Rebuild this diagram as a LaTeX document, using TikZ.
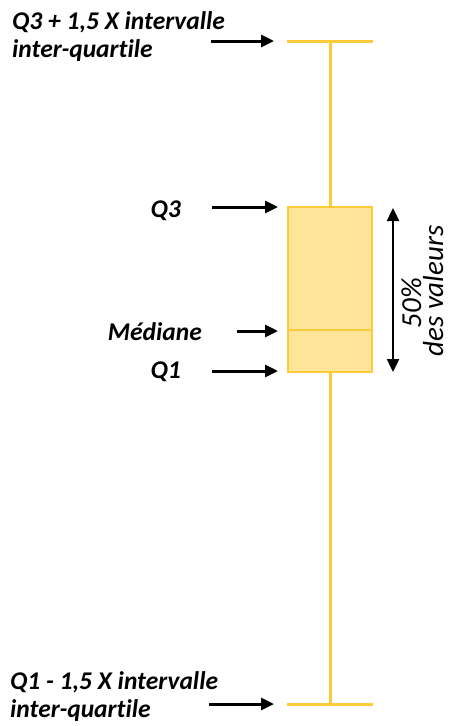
\documentclass[tikz,border=0pt]{standalone}
\usepackage{fontspec}
\setmainfont{Carlito}[Ligatures=NoCommon]
\usetikzlibrary{arrows.meta}
\definecolor{boxline}{HTML}{FBCB3A}
\definecolor{boxfill}{HTML}{FFE597}
\begin{document}
\begin{tikzpicture}[x=1pt,y=-1pt,
  lbl/.style={font=\fontsize{25.5}{28}\selectfont\bfseries\itshape, inner sep=0pt},
  rlbl/.style={font=\fontsize{29}{32}\selectfont\itshape, inner sep=0pt, rotate=90, anchor=base},
  ptr/.style={-{Triangle[length=13pt,width=12pt]}, line width=3pt, black},
  whisk/.style={boxline, line width=3pt},
  boxst/.style={draw=boxline, fill=boxfill, line width=2pt}]
\useasboundingbox (0,0) rectangle (451,726);
% whiskers
\coordinate (wt) at (330,41);
\coordinate (wb) at (330,704);
\draw[whisk] (287,41) -- (373,41);
\draw[whisk] (287,704) -- (373,704);
\draw[whisk] (wt) -- (330,207);
\draw[whisk] (330,372) -- (wb);
% box
\draw[boxst] (288,207) rectangle (372,372);
\draw[boxline, line width=2pt] (288,330) -- (372,330);
% arrow targets
\coordinate (tTop) at (274,41);
\coordinate (tQ3) at (278,207);
\coordinate (tMed) at (278,331);
\coordinate (tQ1) at (278,371);
\coordinate (tBot) at (274,704);
% labels
\node[lbl, anchor=base west] (top1) at (12,29) {Q3 + 1,5 X intervalle};
\node[lbl, anchor=base west] (top2) at (12,57) {inter-quartile};
\node[lbl, anchor=base east] (q3) at (181,217) {Q3};
\node[lbl, anchor=base east] (med) at (202,340) {Médiane};
\node[lbl, anchor=base east] (q1) at (181,378) {Q1};
\node[lbl, anchor=base west] (bot1) at (10,689) {Q1 - 1,5 X intervalle};
\node[lbl, anchor=base west] (bot2) at (10,717) {inter-quartile};
% arrows
\coordinate (sTop) at (211,41);
\coordinate (sQ3) at (212,207);
\coordinate (sMed) at (237,331);
\coordinate (sQ1) at (212,371);
\coordinate (sBot) at (209,704);
\draw[ptr] (sTop) -- (tTop);
\draw[ptr] (sQ3) -- (tQ3);
\draw[ptr] (sMed) -- (tMed);
\draw[ptr] (sQ1) -- (tQ1);
\draw[ptr] (sBot) -- (tBot);
% 50% arrow
\coordinate (da) at (393,208);
\coordinate (db) at (393,372);
\draw[line width=2.4pt, {Triangle[length=13pt,width=12pt]}-{Triangle[length=13pt,width=12pt]}] (da) -- (db);
\node[rlbl] (pct) at (421,303) {50\%};
\node[rlbl] (des) at (443,291) {des valeurs};
\end{tikzpicture}
\end{document}
